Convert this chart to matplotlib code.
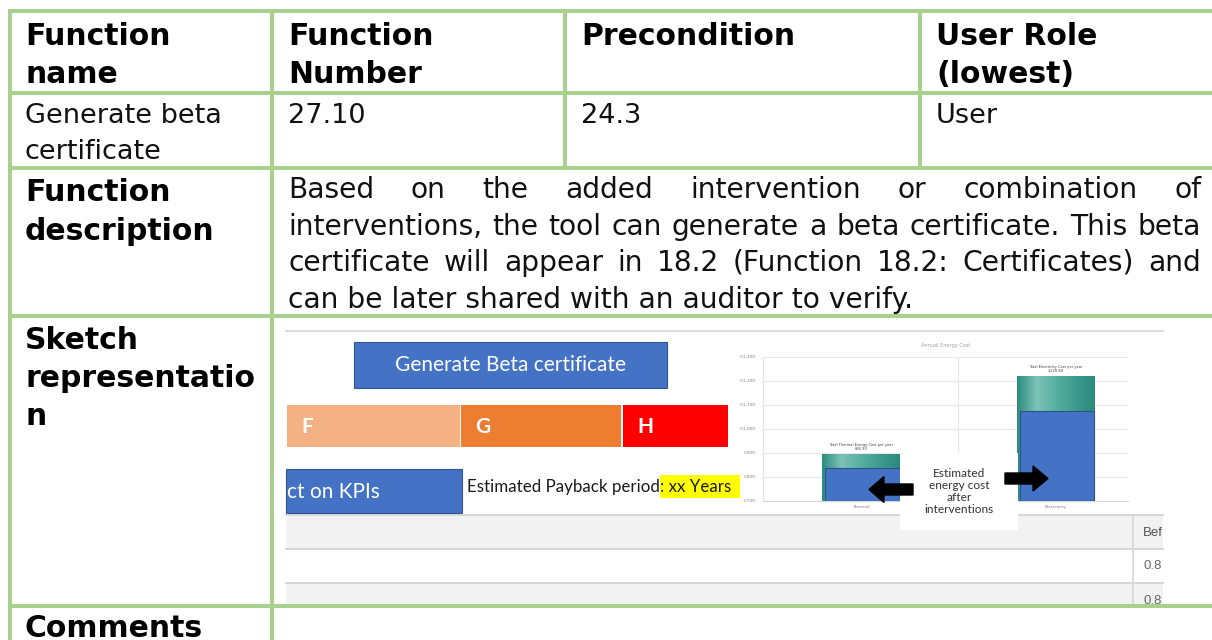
import numpy as np
import matplotlib.pyplot as plt
from matplotlib.patches import Rectangle, FancyArrow
from matplotlib.colors import LinearSegmentedColormap

# ---- content ----
header_labels = [["Function", "name"], ["Function", "Number"], ["Precondition"], ["User Role", "(lowest)"]]
row_values = [["Generate beta", "certificate"], ["27.10"], ["24.3"], ["User"]]
row_titles = [["Function", "description"], ["Sketch", "representatio", "n"], ["Comments"]]
description_lines = [
    "Based on the added intervention or combination of",
    "interventions, the tool can generate a beta certificate. This beta",
    "certificate will appear in 18.2 (Function 18.2: Certificates) and",
    "can be later shared with an auditor to verify.",
]
button_label = "Generate Beta certificate"
kpi_button_label = "ct on KPIs"
payback_label = "Estimated Payback period"
payback_value = ": xx Years"
rating_labels = ["F", "G", "H"]
rating_colors = ["#F4B183", "#ED7D31", "#FF0000"]

chart_title = "Annual Energy Cost"
chart_categories = ["Thermal", "Electricity"]
cost_before = [896, 1221]
cost_after = [838, 1075]
cost_notes = ["Total Thermal Energy Cost per year\n895.90", "Total Electricity Cost per year\n1,220.80"]
cost_ticks = [700, 800, 900, 1000, 1100, 1200, 1300]
cost_tick_labels = ["€700", "€800", "€900", "€1,000", "€1,100", "€1,200", "€1,300"]
callout_text = "Estimated\nenergy cost\nafter\ninterventions"
kpi_header = "Bef"
kpi_values = ["0.8", "0.8"]

# ---- layout (pixels) ----
W, H = 1212, 640
GREEN = "#A9D18E"
col_x = [9.5, 271.5, 565, 920]
row_y = [11, 93, 168, 316, 606]
text_x = [25, 288, 581, 936]
header_base = [45, 83]
row2_base = [123, 159]
row_title_base = [[201, 240], [349, 387, 425], [637]]
para_base = [198, 235, 271, 308]
BOLD = dict(family="DejaVu Sans", fontweight="bold", fontsize=21.5, color="black")
BODY = dict(family="DejaVu Sans", fontsize=19.5, color="#111111")
UI = ["Lato", "DejaVu Sans"]

fig = plt.figure(figsize=(W / 100, H / 100), dpi=100)
ax = fig.add_axes([0, 0, 1, 1])
ax.set_xlim(0, W)
ax.set_ylim(H, 0)
ax.axis("off")
renderer = fig.canvas.get_renderer()

# header row + first data row
for i in range(4):
    for j, s in enumerate(header_labels[i]):
        ax.text(text_x[i], header_base[j], s, va="baseline", **BOLD)
    for j, s in enumerate(row_values[i]):
        ax.text(text_x[i], row2_base[j], s, va="baseline", **BODY)

for k, lines in enumerate(row_titles):
    for j, s in enumerate(lines):
        ax.text(text_x[0], row_title_base[k][j], s, va="baseline", **BOLD)

# justified description: size the font so the tightest line fills the cell
x0, x1 = 288, 1201
probe = ax.text(0, 0, description_lines[1], **BODY)
para_size = BODY["fontsize"] * (x1 - x0 - 4) / probe.get_window_extent(renderer).width
probe.remove()
PARA = dict(BODY, fontsize=para_size)
for n, line in enumerate(description_lines):
    if n == len(description_lines) - 1:
        ax.text(x0, para_base[n], line, va="baseline", **PARA)
        continue
    words = line.split()
    texts = [ax.text(0, para_base[n], w, va="baseline", **PARA) for w in words]
    widths = [t.get_window_extent(renderer).width for t in texts]
    gap = (x1 - x0 - sum(widths)) / (len(words) - 1)
    pos = x0
    for t, w in zip(texts, widths):
        t.set_x(pos)
        pos += w + gap

# ---- sketch screenshot ----
sx0, sx1 = 286, 1163
ax.plot([sx0, sx1], [331, 331], color="#DEDEDE", lw=1.5)

ax.add_patch(Rectangle((354, 342), 313, 46, fc="#4472C4", ec="#2F5597", lw=0.8))
ax.text(510.5, 365, button_label, ha="center", va="center", color="white", fontsize=15, family=UI)

rating_x = [287, 461, 623]
rating_w = [173, 160, 105]
for lab, c, rx, rw in zip(rating_labels, rating_colors, rating_x, rating_w):
    ax.add_patch(Rectangle((rx, 405), rw, 42, fc=c, ec="none"))
    ax.text(rx + 14, 427, lab, ha="left", va="center", color="white", fontsize=15,
            fontweight="bold", family=UI)

ax.add_patch(Rectangle((286, 469), 176, 44, fc="#4472C4", ec="#2F5597", lw=0.8))
ax.text(287, 492, kpi_button_label, ha="left", va="center", color="white", fontsize=15, family=UI)

pb = ax.text(467, 487, payback_label, ha="left", va="center", color="#1a1a1a", fontsize=12.2, family=UI)
pb_end = pb.get_window_extent(renderer).x1
ax.add_patch(Rectangle((pb_end, 475), 740 - pb_end, 23, fc="#FFFF00", ec="none"))
ax.text(pb_end, 487, payback_value, ha="left", va="center", color="#1a1a1a", fontsize=12.2, family=UI)

# bottom grid of the screenshot
ax.add_patch(Rectangle((sx0, 516), sx1 - sx0, 32, fc="#F2F2F2", ec="none"))
ax.add_patch(Rectangle((sx0, 584), sx1 - sx0, 22, fc="#F2F2F2", ec="none"))
for yy in [515, 548.5, 583]:
    ax.plot([sx0, sx1], [yy, yy], color="#D6D6D6", lw=1.4)
ax.plot([1133, 1133], [516, 606], color="#D6D6D6", lw=1.2)
ax.text(1143, 533, kpi_header, ha="left", va="center", color="#555555", fontsize=9.5, family="Liberation Sans")
for yy, v in zip([566, 601], kpi_values):
    ax.text(1143, yy, v, ha="left", va="center", color="#666666", fontsize=9.5, family="Liberation Sans")

# ---- table borders (drawn on top) ----
for yy in row_y:
    ax.plot([col_x[0] - 2, W], [yy, yy], color=GREEN, lw=2.9, solid_capstyle="butt", zorder=10)
for xx in col_x[:2]:
    ax.plot([xx, xx], [row_y[0] - 2, H], color=GREEN, lw=2.9, solid_capstyle="butt", zorder=10)
for xx in col_x[2:]:
    ax.plot([xx, xx], [row_y[0] - 2, row_y[2]], color=GREEN, lw=2.9, solid_capstyle="butt", zorder=10)

# ---- embedded bar chart ----
px0, px1, py0, py1 = 763, 1128, 357, 501
cax = fig.add_axes([px0 / W, (H - py1) / H, (px1 - px0) / W, (py1 - py0) / H])
cax.set_facecolor("none")
xpos = np.arange(len(chart_categories))
base = cost_ticks[0]
teal = LinearSegmentedColormap.from_list(
    "teal", ["#2B8C7E", "#7DC3B6", "#56AFA1", "#3E9C8E", "#2A897B"])
bars = cax.bar(xpos, np.array(cost_before) - base, bottom=base, width=0.4, color="#3E9C8E", zorder=2)
grad = np.linspace(0, 1, 200)[None, :]
for b in bars:
    bx, by, bw, bh = b.get_x(), b.get_y(), b.get_width(), b.get_height()
    im = cax.imshow(grad, extent=[bx, bx + bw, by, by + bh], aspect="auto", cmap=teal, zorder=2.5)
    im.set_clip_path(b)
cax.bar(xpos + 0.008, np.array(cost_after) - base, bottom=base, width=0.385,
        color="#4472C4", edgecolor="#2F528F", lw=0.8, zorder=3)
for xp, v, note in zip(xpos, cost_before, cost_notes):
    cax.text(xp, v + 12, note, ha="center", va="bottom", fontsize=2.6, color="#404040", linespacing=1.0)
cax.set_xlim(-0.504, 1.373)
cax.set_ylim(cost_ticks[0], cost_ticks[-1])
cax.set_yticks(cost_ticks)
cax.set_yticklabels(cost_tick_labels)
cax.set_xticks(xpos)
cax.set_xticklabels(chart_categories)
cax.tick_params(length=0, labelsize=3.2, labelcolor="#808080", pad=3)
cax.tick_params(axis="y", pad=6)
cax.grid(axis="y", color="#E8E8E8", lw=0.8, zorder=0)
cax.axvline(0.5, color="#E8E8E8", lw=0.8, zorder=0)
for side in ["top", "right"]:
    cax.spines[side].set_visible(False)
cax.spines["left"].set_color("#E4E4E4")
cax.spines["bottom"].set_color("#D8D8D8")
cax.set_title(chart_title, fontsize=3.6, color="#A0A0A0", pad=7)

# ---- callout overlay ----
oax = fig.add_axes([0, 0, 1, 1])
oax.set_xlim(0, W)
oax.set_ylim(H, 0)
oax.axis("off")
oax.patch.set_alpha(0)
oax.add_patch(Rectangle((900, 453), 118, 77, fc="white", ec="none"))
oax.text(959, 491.5, callout_text, ha="center", va="center", fontsize=8.6, color="#333333",
         family=UI, linespacing=1.08)
oax.add_patch(FancyArrow(913, 489.5, -44, 0, width=11, head_width=26, head_length=15,
                         length_includes_head=True, color="black"))
oax.add_patch(FancyArrow(1005, 478.5, 43, 0, width=11, head_width=25, head_length=15,
                         length_includes_head=True, color="black"))

fig.savefig("out.png", dpi=100)
